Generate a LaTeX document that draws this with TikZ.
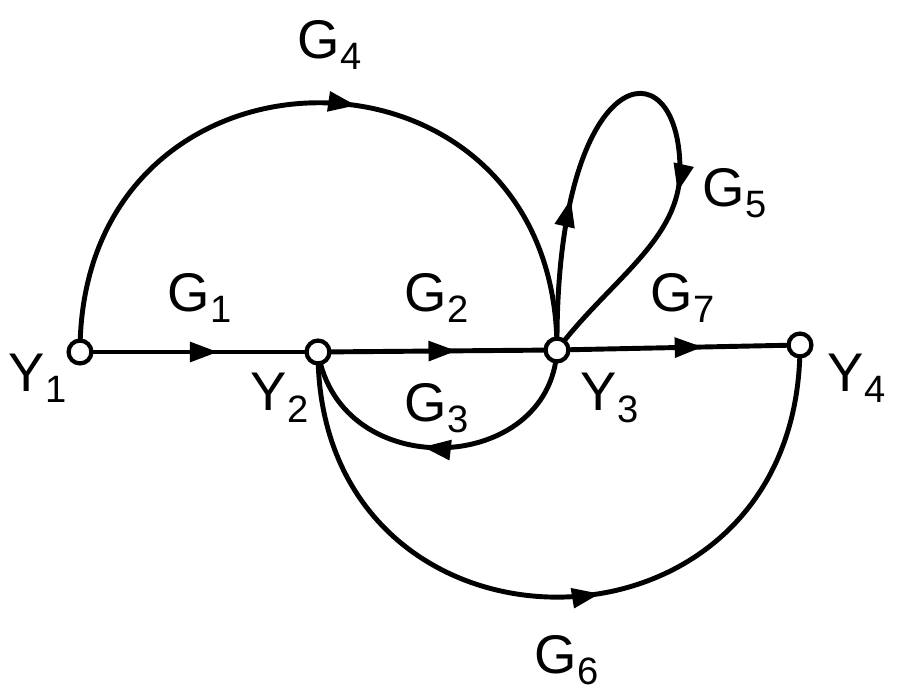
\documentclass[tikz,border=0pt]{standalone}
\usepackage{fontspec}
\setmainfont{Liberation Sans}
\usetikzlibrary{decorations.markings,arrows.meta}
\begin{document}
\begin{tikzpicture}[x=0.02cm,y=-0.02cm,
  nd/.style={circle,draw,line width=2.4pt,fill=white,inner sep=0pt,minimum size=13pt},
  br/.style={line width=2.8pt},
  arr/.style={postaction={decorate},decoration={markings,mark=at position #1 with {\arrow{Triangle[length=16pt,width=11pt]}}}},
  lb/.style={font=\fontsize{31}{33}\selectfont,inner sep=0pt}]
\useasboundingbox (0,0) rectangle (917,700);
\coordinate (L) at (680,170);
\draw[br,arr=0.58] (80,352) -- (318,352);
\draw[br,arr=0.58] (318,352) -- (557,350);
\draw[br,arr=0.6] (557,350) -- (800,345);
\draw[br,arr=0.55] (80,352) .. controls (80,20) and (557,20) .. (557,350);
\draw[br,arr=0.55] (557,350) .. controls (550,475) and (340,485) .. (318,352);
\draw[br,arr=0.55] (318,352) .. controls (318,680) and (800,680) .. (800,345);
\draw[br,arr=0.4] (557,350) .. controls (555,60) and (680,40) .. (L);
\draw[br,arr=0.1] (L) .. controls (680,240) and (610,280) .. (557,350);
\node[nd] (y1) at (80,352) {};
\node[nd] (y2) at (318,352) {};
\node[nd] (y3) at (557,350) {};
\node[nd] (y4) at (800,345) {};
\node[lb] (g4) at (330,45) {G\textsubscript{4}};
\node[lb] (g1) at (200,298) {G\textsubscript{1}};
\node[lb] (g2) at (437,298) {G\textsubscript{2}};
\node[lb] (g7) at (683,298) {G\textsubscript{7}};
\node[lb] (g5) at (735,193) {G\textsubscript{5}};
\node[lb] (g3) at (437,408) {G\textsubscript{3}};
\node[lb] (g6) at (567,660) {G\textsubscript{6}};
\node[lb] (t1) at (38,378) {Y\textsubscript{1}};
\node[lb] (t2) at (280,398) {Y\textsubscript{2}};
\node[lb] (t3) at (610,398) {Y\textsubscript{3}};
\node[lb] (t4) at (857,378) {Y\textsubscript{4}};
\end{tikzpicture}
\end{document}
